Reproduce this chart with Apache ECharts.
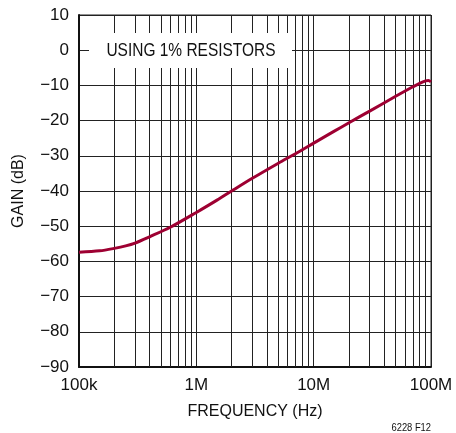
<!DOCTYPE html>
<html>
<head>
<meta charset="utf-8">
<script src="https://cdn.jsdelivr.net/npm/echarts@6/dist/echarts.min.js"></script>
<style>
html,body{margin:0;padding:0;background:#fff;}
#c{width:456px;height:433px;}
</style>
</head>
<body>
<div id="c"></div>
<script>
// Data
const freqHz = [1e5, 1.5e5, 2e5, 2.5e5, 3e5, 4e5, 6e5, 1e6, 1.5e6, 2e6, 3e6, 5e6, 7e6, 1e7, 1.5e7, 2e7, 3e7, 5e7, 7e7, 8e7, 9e7, 9.5e7, 1e8];
const gainDb = [-57.4, -57.0, -56.3, -55.6, -54.8, -53.0, -50.3, -46.1, -42.6, -40.0, -36.4, -32.1, -29.4, -26.4, -23.0, -20.6, -17.3, -13.1, -10.4, -9.4, -8.7, -8.6, -9.0];
const xTickValues = [1e5, 1e6, 1e7, 1e8];
const xTickLabels = ['100k', '1M', '10M', '100M'];
const xMinorGrid = [2e5,3e5,4e5,5e5,6e5,7e5,8e5,9e5,2e6,3e6,4e6,5e6,6e6,7e6,8e6,9e6,2e7,3e7,4e7,5e7,6e7,7e7,8e7,9e7];
const yTickValues = [-90,-80,-70,-60,-50,-40,-30,-20,-10,0,10];
const yTickLabels = ['\u221290','\u221280','\u221270','\u221260','\u221250','\u221240','\u221230','\u221220','\u221210','0','10'];
const noteText = 'USING 1% RESISTORS';
const figId = '6228 F12';

const FONT = '"Liberation Sans", Arial, sans-serif';
const chart = echarts.init(document.getElementById('c'), null, {renderer:'canvas'});
chart.setOption({
  animation: false,
  backgroundColor: '#fff',
  grid: {left: 79, right: 25, top: 15, bottom: 66, show: true, borderColor: '#222', borderWidth: 1},
  xAxis: {
    type: 'log', logBase: 10, min: 1e5, max: 1e8,
    name: 'FREQUENCY (Hz)', nameLocation: 'middle', nameGap: 37,
    nameTextStyle: {fontFamily: FONT, fontSize: 16, color: '#111'},
    axisLine: {show: true, onZero: false, lineStyle: {color: '#111', width: 2}},
    axisTick: {show: false},
    splitLine: {show: true, lineStyle: {color: '#222', width: 1}},
    axisLabel: {
      fontFamily: FONT, fontSize: 17, color: '#111', margin: 10,
      formatter: function (v) {
        for (let i = 0; i < xTickValues.length; i++) {
          if (Math.abs(Math.log10(v) - Math.log10(xTickValues[i])) < 1e-6) return xTickLabels[i];
        }
        return '';
      }
    }
  },
  yAxis: {
    type: 'value', min: -90, max: 10, interval: 10,
    name: 'GAIN (dB)', nameLocation: 'middle', nameGap: 52,
    nameTextStyle: {fontFamily: FONT, fontSize: 16, color: '#111'},
    axisLine: {show: true, onZero: false, lineStyle: {color: '#111', width: 2}},
    axisTick: {show: false},
    splitLine: {show: true, lineStyle: {color: '#222', width: 1}},
    axisLabel: {
      fontFamily: FONT, fontSize: 17, color: '#111', margin: 10,
      formatter: function (v) {
        const i = yTickValues.indexOf(Math.round(v));
        return i >= 0 ? yTickLabels[i] : '';
      }
    }
  },
  series: [{
    type: 'line',
    data: freqHz.map((f, i) => [f, gainDb[i]]),
    smooth: 0.3,
    showSymbol: false,
    lineStyle: {color: '#9e0032', width: 3},
    z: 5,
    markLine: {
      silent: true, symbol: 'none', animation: false,
      label: {show: false},
      lineStyle: {color: '#222', width: 1, type: 'solid'},
      data: xMinorGrid.map(v => ({xAxis: v}))
    }
  }],
  graphic: [
    {type: 'rect', z: 100, shape: {x: 89, y: 33, width: 203, height: 35}, style: {fill: '#fff'}},
    {type: 'text', z: 101, x: 191, y: 51, scaleX: 0.86, style: {text: noteText, fontFamily: FONT, fontSize: 18, fill: '#111', textAlign: 'center', textVerticalAlign: 'middle'}},
    {type: 'text', z: 101, x: 431, y: 428, scaleX: 0.85, originX: 0, style: {text: figId, fontFamily: FONT, fontSize: 11, fill: '#111', textAlign: 'right', textVerticalAlign: 'middle'}}
  ]
});
</script>
</body>
</html>
